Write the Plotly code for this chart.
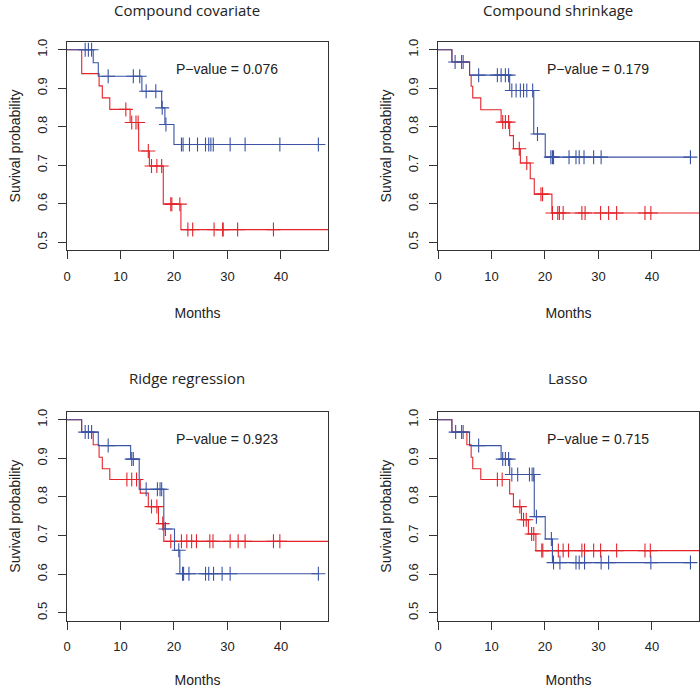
import plotly.graph_objects as go

# --- data (months, survival) ---
titles = ["Compound covariate", "Compound shrinkage", "Ridge regression", "Lasso"]
pvalues = ["0.076", "0.179", "0.923", "0.715"]

# Compound covariate
cc_red_t = [0, 2.75, 6.0, 6.6, 8.0, 11.8, 13.4, 15.4, 18.0, 21.3, 50]
cc_red_s = [1.0, 0.938, 0.906, 0.875, 0.845, 0.811, 0.737, 0.698, 0.599, 0.533, 0.533]
cc_red_c = [11.0, 12.1, 12.9, 13.3, 15.2, 15.8, 16.8, 17.7, 19.4, 19.6, 21.1,
            22.6, 23.5, 27.5, 29.1, 29.2, 31.9, 38.6]
cc_blue_t = [0, 4.9, 5.85, 14.0, 17.7, 18.3, 20.0, 47.0]
cc_blue_s = [1.0, 0.966, 0.931, 0.892, 0.849, 0.806, 0.754, 0.754]
cc_blue_c = [3.4, 4.0, 4.6, 7.7, 12.4, 13.6, 14.8, 16.6, 17.8, 18.5, 21.4, 21.7,
             22.9, 24.4, 25.9, 26.5, 26.9, 27.35, 30.5, 33.3, 39.8, 47.0]

# Compound shrinkage
cs_red_t = [0, 2.6, 5.9, 6.2, 6.5, 8.0, 11.8, 13.4, 14.1, 15.4, 17.25, 18.0, 21.3, 50]
cs_red_s = [1.0, 0.968, 0.934, 0.905, 0.875, 0.844, 0.812, 0.777, 0.743, 0.706,
            0.665, 0.625, 0.576, 0.576]
cs_red_c = [4.4, 12.1, 12.6, 13.2, 15.2, 16.6, 19.25, 19.55, 21.4, 22.4, 22.7, 23.4,
            26.9, 27.5, 30.4, 31.9, 33.4, 38.7, 39.8]
cs_blue_t = [0, 2.6, 5.9, 13.4, 17.9, 20.05, 47.2]
cs_blue_s = [1.0, 0.968, 0.934, 0.894, 0.781, 0.721, 0.721]
cs_blue_c = [3.2, 4.7, 7.6, 11.1, 11.8, 12.6, 13.2, 13.8, 14.6, 15.4, 16.0, 16.6,
             17.7, 18.6, 21.1, 21.4, 21.6, 24.5, 25.8, 26.4, 27.3, 29.1, 30.5, 47.2]

# Ridge regression
rr_red_t = [0, 2.74, 4.9, 6.0, 6.6, 8.0, 13.7, 15.2, 17.1, 18.1, 50]
rr_red_s = [1.0, 0.968, 0.935, 0.903, 0.873, 0.845, 0.81, 0.775, 0.731, 0.685, 0.685]
rr_red_c = [11.2, 12.1, 13.0, 15.8, 16.8, 17.9, 19.4, 21.4, 22.4, 23.3, 24.2, 26.7,
            27.3, 30.5, 32.0, 33.3, 38.6, 39.8]
rr_blue_t = [0, 2.74, 5.85, 11.9, 13.5, 18.1, 20.1, 21.1, 47.0]
rr_blue_s = [1.0, 0.968, 0.933, 0.898, 0.82, 0.717, 0.662, 0.601, 0.601]
rr_blue_c = [3.4, 4.0, 4.6, 7.7, 12.1, 12.4, 14.8, 16.9, 17.4, 17.7, 18.4, 20.9,
             21.6, 21.8, 22.8, 25.9, 26.5, 27.4, 29.0, 30.5, 47.0]

# Lasso
la_red_t = [0, 2.6, 5.4, 6.2, 6.5, 8.0, 13.4, 14.1, 15.6, 16.9, 18.3, 50]
la_red_s = [1.0, 0.968, 0.935, 0.903, 0.873, 0.845, 0.808, 0.775, 0.741, 0.704,
            0.661, 0.661]
la_red_c = [4.4, 11.1, 12.0, 15.3, 16.0, 16.5, 17.5, 17.9, 19.4, 19.6, 21.4, 22.5,
            23.4, 24.4, 26.9, 27.4, 29.1, 30.4, 33.4, 38.7, 39.7]
la_blue_t = [0, 2.6, 5.9, 11.8, 13.4, 18.0, 20.05, 21.4, 47.2]
la_blue_s = [1.0, 0.968, 0.933, 0.898, 0.858, 0.749, 0.691, 0.63, 0.63]
la_blue_c = [3.3, 4.7, 7.6, 12.1, 12.6, 13.2, 13.8, 14.9, 17.1, 17.6, 17.9, 18.4,
             21.2, 21.6, 22.8, 25.8, 26.4, 27.4, 30.5, 31.9, 39.8, 47.2]

x_ticks = [0, 10, 20, 30, 40]
y_ticks = [0.5, 0.6, 0.7, 0.8, 0.9, 1.0]

panels = [
    (cc_red_t, cc_red_s, cc_red_c, cc_blue_t, cc_blue_s, cc_blue_c),
    (cs_red_t, cs_red_s, cs_red_c, cs_blue_t, cs_blue_s, cs_blue_c),
    (rr_red_t, rr_red_s, rr_red_c, rr_blue_t, rr_blue_s, rr_blue_c),
    (la_red_t, la_red_s, la_red_c, la_blue_t, la_blue_s, la_blue_c),
]

RED = "#E3242B"
BLUE = "#3A53A4"
AXC = "#333333"
W, H = 700, 688

# plot boxes in pixels: x0, x1, y0(top), y1(bottom)
boxes = [(67, 328, 42, 250), (438, 699, 42, 250),
         (67, 328, 412, 620.5), (438, 699, 412, 620.5)]
title_pos = [(187, 10), (558, 10), (187, 378), (568, 378)]


def surv_at(ts, ss, x):
    val = ss[0]
    for t, s in zip(ts, ss):
        if t <= x:
            val = s
    return val


fig = go.Figure()

for i, (rt, rs, rc, bt, bs, bc) in enumerate(panels):
    n = "" if i == 0 else str(i + 1)
    xa, ya = "x" + n, "y" + n
    for ts, ss, cs, col in [(rt, rs, rc, RED), (bt, bs, bc, BLUE)]:
        fig.add_trace(go.Scatter(x=ts, y=ss, mode="lines", line_shape="hv",
                                 line=dict(color=col, width=1.1),
                                 xaxis=xa, yaxis=ya, showlegend=False))
        fig.add_trace(go.Scatter(x=cs, y=[surv_at(ts, ss, c) for c in cs],
                                 mode="markers",
                                 marker=dict(symbol="cross-thin", size=10,
                                             line=dict(color=col, width=1.1)),
                                 xaxis=xa, yaxis=ya, showlegend=False))

    x0, x1, y0, y1 = boxes[i]
    axis_common = dict(showline=True, mirror=True, linecolor=AXC, linewidth=1,
                       ticks="outside", ticklen=8, tickcolor=AXC, showgrid=False,
                       zeroline=False, automargin=False,
                       tickfont=dict(family="Liberation Sans", size=13, color="#222"))
    fig.layout["xaxis" + n] = dict(axis_common, domain=[x0 / W, x1 / W],
                                   range=[0, 48.8], tickvals=x_ticks,
                                   ticklabelstandoff=6, anchor=ya,
                                   title=dict(text="Months", standoff=25,
                                              font=dict(family="Liberation Sans",
                                                        size=14, color="#222")))
    fig.layout["yaxis" + n] = dict(axis_common, domain=[1 - y1 / H, 1 - y0 / H],
                                   range=[0.48, 1.02], tickvals=y_ticks,
                                   ticktext=["%.1f" % v for v in y_ticks],
                                   tickangle=-90, ticklabelstandoff=6, anchor=xa,
                                   title=dict(text="Suvival probability", standoff=10,
                                              font=dict(family="Liberation Sans",
                                                        size=14, color="#222")))

    fig.add_annotation(x=30, y=0.95, xref=xa, yref=ya, showarrow=False,
                       text="P\u2212value = " + pvalues[i],
                       font=dict(family="Liberation Sans", size=14, color="#222"))
    tx, ty = title_pos[i]
    fig.add_annotation(x=tx / W, y=1 - ty / H, xref="paper", yref="paper",
                       showarrow=False, text=titles[i],
                       xanchor="center", yanchor="middle",
                       font=dict(family="Open Sans", size=15, color="#222"))

fig.update_layout(width=W, height=H, margin=dict(l=0, r=0, t=0, b=0),
                  paper_bgcolor="white", plot_bgcolor="white")

# drop the browser's default page margin so the figure sits at the window corner
fig.write_html("out.html", config={"displayModeBar": False},
               post_script="document.body.style.margin='0';document.body.style.overflow='hidden';")
